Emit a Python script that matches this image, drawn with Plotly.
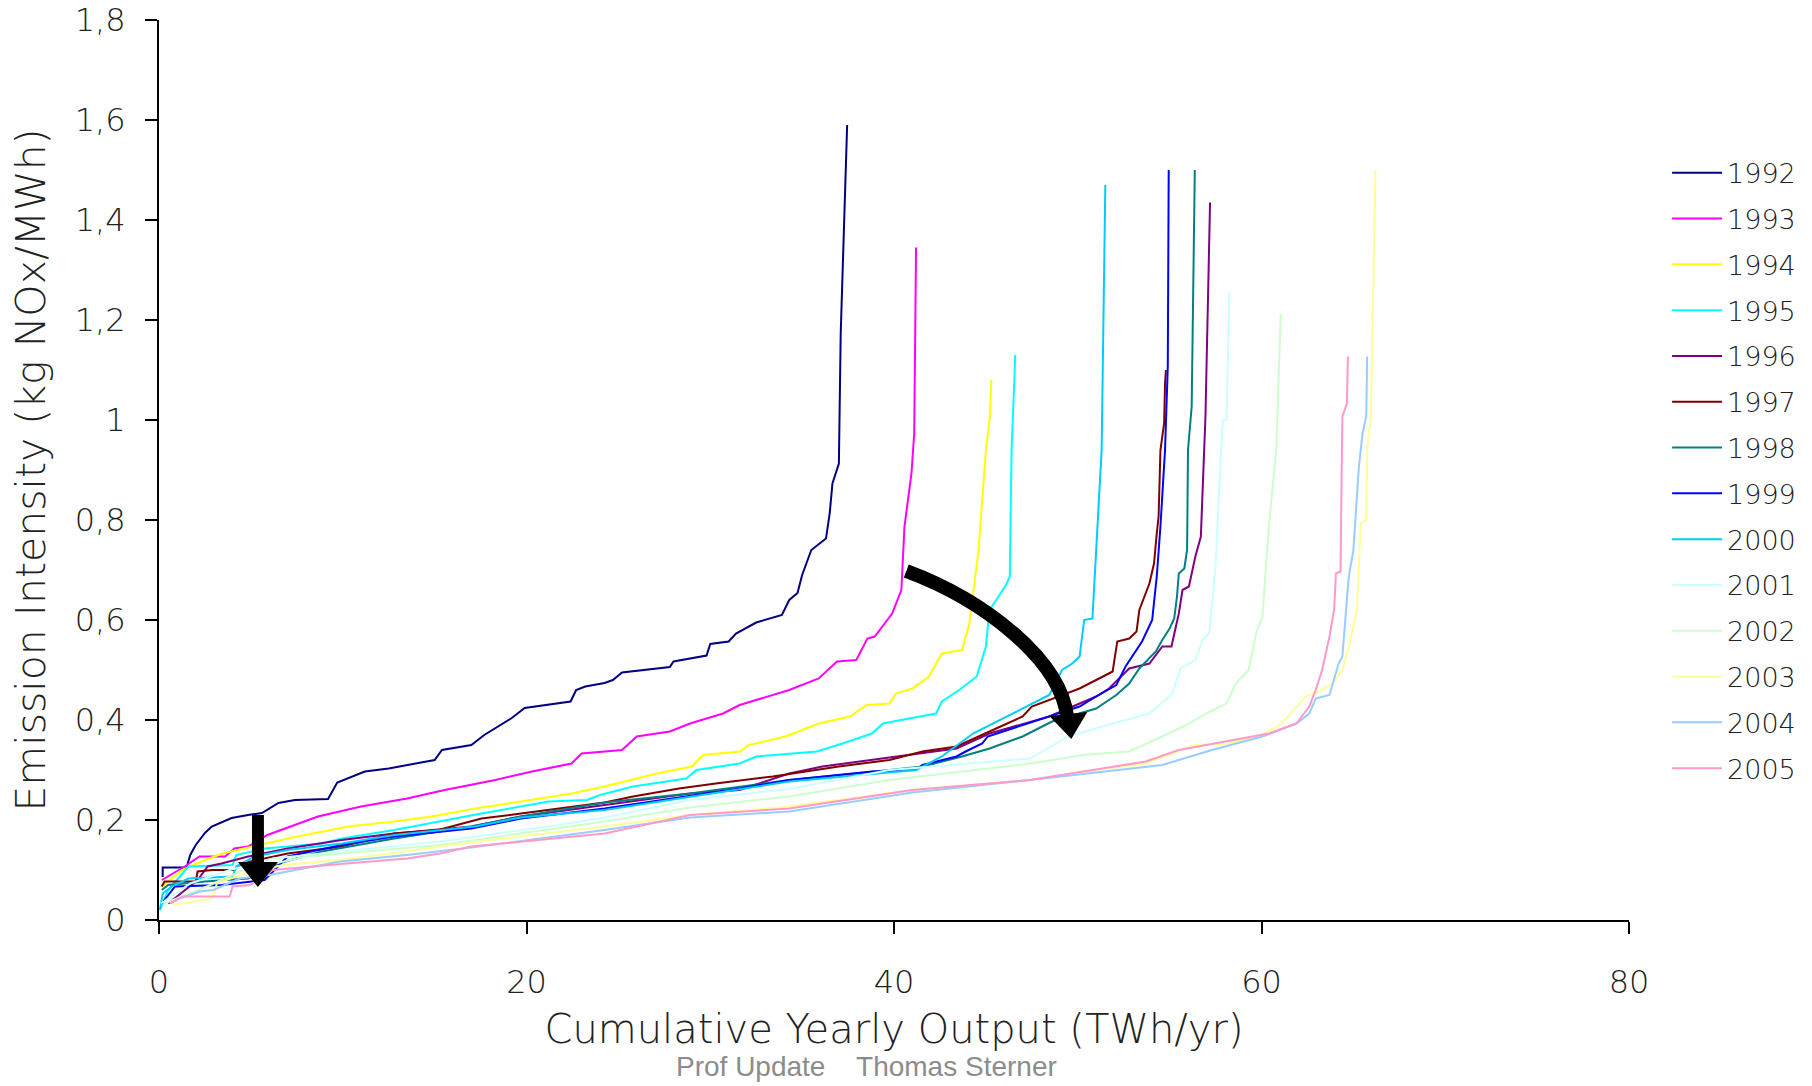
import plotly.graph_objects as go

years = ["1992", "1993", "1994", "1995", "1996", "1997", "1998", "1999",
         "2000", "2001", "2002", "2003", "2004", "2005"]
colors = ["#000080", "#FF00FF", "#FFFF00", "#00FFFF", "#800080", "#800000", "#008080",
          "#0000FF", "#00CCFF", "#CCFFFF", "#CCFFCC", "#FFFF99", "#99CCFF", "#FF99CC"]

x1992 = [0.2, 0.2, 1.5, 1.7, 2.0, 2.5, 2.87, 3.95, 4.85, 5.6, 6.5, 7.4, 9.2, 9.7, 11.2, 12.5, 15.0, 15.4,
         17.0, 17.7, 19.2, 19.9, 22.4, 22.7, 23.2, 24.25, 24.7, 25.2, 27.8, 28.0, 29.8, 30.0, 31.0, 31.4,
         32.5, 33.9, 34.3, 34.75, 35.0, 35.5, 36.3, 36.5, 36.65, 37.0, 37.1, 37.45]
y1992 = [0.086, 0.105, 0.105, 0.13, 0.15, 0.174, 0.187, 0.204, 0.21, 0.214, 0.234, 0.24, 0.242, 0.275,
         0.297, 0.303, 0.32, 0.34, 0.35, 0.37, 0.404, 0.424, 0.437, 0.46, 0.467, 0.474, 0.48, 0.495, 0.506,
         0.517, 0.529, 0.552, 0.557, 0.573, 0.595, 0.61, 0.64, 0.654, 0.69, 0.74, 0.763, 0.813, 0.873,
         0.913, 1.173, 1.59]

x1993 = [0.16, 1.4, 2.2, 3.6, 4.1, 4.85, 5.9, 7.55, 8.65, 11.0, 13.5, 15.55, 18.3, 20.3, 22.45, 23.0,
         25.2, 26.0, 27.8, 28.9, 30.7, 31.6, 34.3, 35.9, 36.9, 37.95, 38.55, 38.95, 39.9, 40.4, 40.57,
         40.95, 41.1, 41.2]
y1993 = [0.08, 0.107, 0.127, 0.127, 0.143, 0.147, 0.17, 0.193, 0.207, 0.227, 0.243, 0.26, 0.28, 0.297,
         0.313, 0.333, 0.34, 0.367, 0.377, 0.393, 0.413, 0.43, 0.46, 0.483, 0.517, 0.52, 0.563, 0.567,
         0.613, 0.66, 0.787, 0.893, 0.973, 1.345]

x1994 = [0.16, 1.25, 2.3, 3.45, 5.1, 7.0, 10.3, 12.8, 14.85, 17.2, 19.7, 22.45, 24.25, 27.1, 29.0, 29.6,
         31.6, 32.1, 34.1, 35.9, 37.6, 38.5, 39.75, 40.1, 41.0, 41.9, 42.6, 43.7, 44.1, 44.6, 45.0, 45.2,
         45.3]
y1994 = [0.067, 0.1, 0.117, 0.133, 0.147, 0.163, 0.187, 0.197, 0.207, 0.223, 0.237, 0.253, 0.267, 0.293,
         0.307, 0.33, 0.337, 0.35, 0.367, 0.393, 0.407, 0.43, 0.433, 0.453, 0.463, 0.487, 0.533, 0.54,
         0.593, 0.74, 0.94, 1.0, 1.08]

x1995 = [0.05, 0.5, 1.6, 4.0, 4.2, 5.75, 8.85, 9.95, 12.8, 15.2, 17.55, 21.2, 23.3, 24.0, 25.8, 28.7,
         29.25, 31.6, 32.5, 35.8, 37.2, 38.8, 39.4, 41.4, 42.3, 42.6, 43.55, 44.5, 45.0, 45.2, 46.1, 46.3,
         46.4, 46.6]
y1995 = [0.02, 0.06, 0.107, 0.11, 0.13, 0.143, 0.153, 0.163, 0.18, 0.197, 0.213, 0.237, 0.24, 0.25,
         0.267, 0.283, 0.3, 0.313, 0.327, 0.337, 0.353, 0.373, 0.393, 0.407, 0.413, 0.437, 0.46, 0.487,
         0.547, 0.62, 0.67, 0.687, 0.94, 1.13]

x1996 = [0.5, 2.1, 2.65, 3.4, 4.85, 7.0, 9.95, 12.8, 17.0, 19.7, 24.25, 28.9, 31.6, 34.3, 36.1, 38.8,
         41.55, 43.4, 45.2, 47.2, 48.45, 51.0, 51.7, 52.8, 53.9, 54.6, 55.1, 55.5, 55.7, 56.05, 56.4,
         56.7, 56.95, 57.2]
y1996 = [0.033, 0.08, 0.107, 0.113, 0.127, 0.143, 0.16, 0.173, 0.187, 0.207, 0.23, 0.253, 0.26, 0.293,
         0.307, 0.32, 0.333, 0.343, 0.373, 0.393, 0.407, 0.447, 0.463, 0.503, 0.513, 0.547, 0.547, 0.613,
         0.66, 0.667, 0.727, 0.767, 1.007, 1.435]

x1997 = [0.15, 0.3, 2.0, 2.1, 2.9, 4.1, 4.5, 7.0, 9.95, 12.8, 15.2, 17.55, 19.7, 24.25, 25.8, 28.3, 30.3,
         33.4, 37.0, 39.75, 41.55, 43.4, 45.2, 47.0, 47.5, 50.1, 51.0, 51.9, 52.15, 52.8, 53.2, 53.35,
         53.9, 54.15, 54.3, 54.4, 54.5, 54.7, 54.75, 54.8]
y1997 = [0.067, 0.077, 0.077, 0.097, 0.1, 0.1, 0.113, 0.133, 0.147, 0.173, 0.18, 0.203, 0.213, 0.235,
         0.247, 0.263, 0.273, 0.287, 0.307, 0.32, 0.337, 0.347, 0.377, 0.407, 0.427, 0.463, 0.48, 0.497,
         0.557, 0.563, 0.577, 0.62, 0.673, 0.713, 0.773, 0.807, 0.94, 0.993, 1.073, 1.1]

x1998 = [0.15, 0.5, 2.5, 4.85, 6.5, 8.85, 12.8, 17.0, 19.7, 24.25, 28.9, 34.3, 37.95, 41.55, 43.7, 45.2,
         47.0, 48.6, 51.0, 52.1, 52.8, 53.35, 54.25, 54.6, 55.0, 55.25, 55.4, 55.5, 55.8, 55.95, 56.0,
         56.2, 56.37]
y1998 = [0.06, 0.07, 0.077, 0.083, 0.113, 0.137, 0.163, 0.187, 0.207, 0.235, 0.253, 0.28, 0.293, 0.307,
         0.327, 0.343, 0.367, 0.397, 0.423, 0.45, 0.473, 0.503, 0.537, 0.56, 0.583, 0.603, 0.647, 0.693,
         0.703, 0.74, 0.94, 1.027, 1.5]

x1999 = [0.15, 0.7, 0.87, 3.4, 5.75, 7.0, 9.95, 12.8, 17.0, 19.7, 24.25, 31.6, 34.3, 38.8, 41.2, 41.55,
         43.4, 43.9, 44.8, 45.1, 47.0, 50.1, 51.0, 52.1, 52.6, 53.2, 53.5, 54.05, 54.3, 54.5, 54.75, 54.9,
         54.95]
y1999 = [0.033, 0.06, 0.067, 0.07, 0.08, 0.127, 0.15, 0.167, 0.183, 0.203, 0.223, 0.263, 0.28, 0.297,
         0.3, 0.31, 0.327, 0.337, 0.353, 0.367, 0.39, 0.427, 0.447, 0.47, 0.507, 0.54, 0.557, 0.6, 0.687,
         0.787, 0.94, 1.107, 1.5]

x2000 = [0.05, 0.2, 0.7, 1.6, 4.0, 4.2, 5.2, 7.0, 9.95, 12.8, 17.2, 19.7, 24.25, 28.9, 34.3, 41.2, 42.6,
         44.3, 45.9, 47.2, 48.45, 49.15, 49.7, 50.1, 50.35, 50.8, 51.0, 51.3, 51.5]
y2000 = [0.02, 0.053, 0.067, 0.083, 0.087, 0.107, 0.127, 0.14, 0.153, 0.17, 0.187, 0.205, 0.22, 0.247,
         0.277, 0.3, 0.327, 0.373, 0.403, 0.427, 0.45, 0.5, 0.513, 0.527, 0.6, 0.603, 0.74, 0.94, 1.47]

x2001 = [0.1, 1.7, 3.85, 6.2, 15.3, 21.2, 24.25, 28.9, 34.3, 39.75, 47.4, 49.5, 51.9, 53.9, 55.15, 55.6,
         56.4, 56.8, 57.15, 57.5, 57.8, 57.9, 58.1, 58.25]
y2001 = [0.033, 0.073, 0.1, 0.123, 0.157, 0.187, 0.205, 0.24, 0.262, 0.3, 0.323, 0.367, 0.393, 0.413,
         0.453, 0.503, 0.52, 0.56, 0.573, 0.707, 0.94, 1.0, 1.0, 1.255]

x2002 = [0.3, 2.6, 4.4, 8.0, 15.3, 24.25, 28.9, 34.3, 39.75, 47.4, 49.15, 50.25, 52.8, 54.6, 56.05, 57.0,
         58.1, 58.6, 59.3, 59.7, 60.05, 60.4, 60.8, 61.05]
y2002 = [0.033, 0.067, 0.097, 0.127, 0.15, 0.197, 0.225, 0.247, 0.28, 0.313, 0.323, 0.33, 0.337, 0.367,
         0.393, 0.413, 0.433, 0.473, 0.5, 0.573, 0.607, 0.787, 0.94, 1.213]

x2003 = [0.77, 2.9, 3.15, 4.4, 6.75, 9.85, 17.0, 24.25, 28.9, 34.3, 41.0, 47.4, 51.0, 53.7, 55.15, 56.4,
         58.2, 60.05, 61.1, 62.4, 63.3, 63.85, 64.4, 64.75, 65.2, 65.4, 65.7, 65.75, 65.95, 66.2]
y2003 = [0.03, 0.043, 0.073, 0.09, 0.11, 0.12, 0.155, 0.187, 0.21, 0.227, 0.26, 0.28, 0.3, 0.313, 0.333,
         0.35, 0.353, 0.37, 0.393, 0.447, 0.46, 0.473, 0.5, 0.547, 0.62, 0.793, 0.8, 0.94, 1.007, 1.5]

x2004 = [0.9, 2.2, 2.95, 4.4, 6.0, 9.85, 13.5, 17.0, 24.25, 28.9, 34.3, 41.0, 47.4, 54.6, 57.3, 60.05,
         61.9, 62.6, 62.95, 63.7, 64.2, 64.4, 64.75, 65.0, 65.3, 65.5, 65.7, 65.75]
y2004 = [0.04, 0.057, 0.06, 0.083, 0.09, 0.117, 0.13, 0.145, 0.18, 0.205, 0.217, 0.255, 0.28, 0.31, 0.34,
         0.367, 0.393, 0.413, 0.443, 0.45, 0.513, 0.527, 0.687, 0.74, 0.907, 0.973, 1.007, 1.127]

x2005 = [0.6, 1.3, 3.85, 4.0, 4.95, 6.2, 10.2, 13.5, 15.3, 17.0, 24.25, 28.9, 34.3, 41.0, 47.4, 53.7,
         55.5, 58.6, 60.4, 61.9, 62.6, 62.95, 63.3, 63.7, 63.95, 64.05, 64.3, 64.4, 64.65, 64.7]
y2005 = [0.033, 0.047, 0.047, 0.067, 0.07, 0.1, 0.113, 0.123, 0.133, 0.147, 0.173, 0.21, 0.223, 0.26,
         0.28, 0.317, 0.34, 0.36, 0.373, 0.393, 0.427, 0.46, 0.5, 0.567, 0.62, 0.693, 0.697, 1.007, 1.033,
         1.127]

series_x = [x1992, x1993, x1994, x1995, x1996, x1997, x1998, x1999, x2000, x2001, x2002, x2003, x2004, x2005]
series_y = [y1992, y1993, y1994, y1995, y1996, y1997, y1998, y1999, y2000, y2001, y2002, y2003, y2004, y2005]

y_tickvals = [0, 0.2, 0.4, 0.6, 0.8, 1.0, 1.2, 1.4, 1.6, 1.8]
y_ticktext = ["0", "0,2", "0,4", "0,6", "0,8", "1", "1,2", "1,4", "1,6", "1,8"]
x_tickvals = [0, 20, 40, 60, 80]
x_ticktext = ["0", "20", "40", "60", "80"]

FONT = "DejaVu Sans"
TXT = "#222222"

fig = go.Figure()
for i, yr in enumerate(years):
    fig.add_trace(go.Scatter(
        x=series_x[i], y=series_y[i], mode="lines", name=yr, legendgroup=yr,
        line=dict(color=colors[i], width=2)))

# arrows
fig.add_shape(type="rect", xref="x", yref="y", x0=5.06, x1=5.71, y0=0.114, y1=0.21,
              fillcolor="black", line=dict(width=0))
fig.add_shape(type="path", xref="x", yref="y", path="M 4.30,0.116 L 6.47,0.116 L 5.38,0.066 Z",
              fillcolor="black", line=dict(width=0))
fig.add_shape(type="path", xref="x", yref="y",
              path="M 40.67,0.698 C 44.92,0.64 49.10,0.52 49.43,0.404",
              fillcolor="rgba(0,0,0,0)", line=dict(color="black", width=14))
fig.add_shape(type="path", xref="x", yref="y", path="M 48.45,0.408 L 50.52,0.416 L 49.65,0.362 Z",
              fillcolor="black", line=dict(width=0))

fig.add_annotation(text="Prof Update\u00a0\u00a0\u00a0 Thomas Sterner", xref="paper", yref="paper",
                   x=0.4816, y=-0.1633, xanchor="center", yanchor="middle", showarrow=False,
                   font=dict(family="Liberation Sans, Arial", size=28, color="#8c8c8c"))

fig.update_layout(
    width=1812, height=1086,
    margin=dict(l=159, r=183, t=20, b=166, autoexpand=False),
    paper_bgcolor="white", plot_bgcolor="white",
    font=dict(family=FONT, color=TXT, weight=300),
    showlegend=True,
    legend=dict(x=1.0259, xanchor="left", y=0.857, yanchor="top", itemwidth=50,
                font=dict(family=FONT, size=27, color=TXT, weight=300),
                tracegroupgap=7.7, bgcolor="rgba(0,0,0,0)"),
    xaxis=dict(range=[0, 80], tickvals=x_tickvals, ticktext=x_ticktext, automargin=False,
               ticklabeloverflow="allow",
               showgrid=False, zeroline=False, showline=True, linecolor="black", linewidth=2,
               ticks="outside", ticklen=12, tickwidth=2, tickcolor="black",
               tickfont=dict(family=FONT, size=32, color=TXT, weight=300),
               ticklabelstandoff=21,
               title=dict(text="Cumulative Yearly Output (TWh/yr)", standoff=15,
                          font=dict(family=FONT, size=40, color=TXT, weight=300))),
    yaxis=dict(range=[0, 1.8], tickvals=y_tickvals, ticktext=y_ticktext, automargin=False,
               ticklabeloverflow="allow",
               showgrid=False, zeroline=False, showline=True, linecolor="black", linewidth=2,
               ticks="outside", ticklen=12, tickwidth=2, tickcolor="black",
               tickfont=dict(family=FONT, size=32, color=TXT, weight=300),
               ticklabelstandoff=13,
               title=dict(text="Emission Intensity (kg NOx/MWh)", standoff=16,
                          font=dict(family=FONT, size=41, color=TXT, weight=300))),
)

fig.write_html("out.html", config={"displayModeBar": False},
               post_script="document.body.style.margin='0px';")
